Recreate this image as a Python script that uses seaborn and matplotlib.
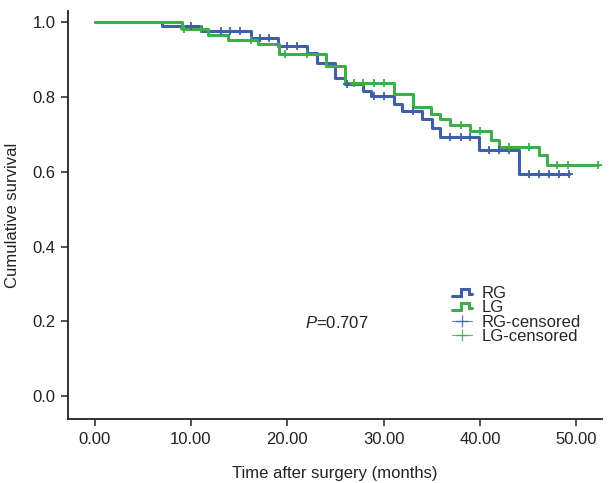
"""Kaplan-Meier style survival curves, RG vs LG."""
import numpy as np
import pandas as pd
import matplotlib
matplotlib.use("Agg")
import matplotlib.pyplot as plt
from matplotlib.legend_handler import HandlerBase
from matplotlib.lines import Line2D
import seaborn as sns

# step curves: time of each drop (months) and survival after it
rg_time = [0, 7.0, 11.0, 16.2, 19.0, 22.1, 23.1, 25.0, 26.0, 27.9, 28.7, 31.1,
           31.9, 34.0, 35.0, 35.9, 39.9, 44.0, 49.2]
rg_surv = [1.0, 0.990, 0.976, 0.958, 0.937, 0.919, 0.892, 0.851, 0.836, 0.816,
           0.802, 0.781, 0.763, 0.740, 0.718, 0.693, 0.658, 0.594, 0.594]
rg_censor = [10.0, 13.1, 14.1, 15.1, 17.2, 18.1, 20.0, 21.0, 26.2, 29.0, 30.0,
             33.0, 36.9, 38.0, 39.0, 40.9, 42.0, 43.0, 45.1, 46.1, 47.2, 48.2, 49.2]

lg_time = [0, 9.1, 11.8, 13.9, 17.0, 19.1, 24.0, 26.0, 31.1, 33.0, 34.9, 35.9,
           36.9, 39.0, 41.1, 42.0, 46.1, 47.0, 52.2]
lg_surv = [1.0, 0.981, 0.967, 0.954, 0.943, 0.914, 0.883, 0.838, 0.809, 0.774,
           0.756, 0.740, 0.725, 0.709, 0.686, 0.667, 0.644, 0.618, 0.618]
lg_censor = [9.3, 11.0, 16.2, 19.8, 22.1, 26.9, 27.9, 29.0, 30.0, 38.0, 40.0,
             43.0, 45.1, 48.0, 49.1, 52.2]

x_ticks = [0, 10, 20, 30, 40, 50]
y_ticks = [0.0, 0.2, 0.4, 0.6, 0.8, 1.0]

BLUE = "#3f5fab"
GREEN = "#3fae4a"
TEXT = "#222222"


def censor_points(times, surv, censor):
    # survival level at each censoring time
    idx = np.searchsorted(times, censor, side="right") - 1
    return pd.DataFrame({"time": censor, "surv": np.asarray(surv)[idx]})


class StepHandler(HandlerBase):
    """Draws a small step shape as the legend icon."""

    def create_artists(self, legend, orig_handle, xdescent, ydescent,
                       width, height, fontsize, trans):
        w, h = width, height
        xs = np.array([0, 0.45, 0.45, 0.85, 0.85, 1.0]) * w - xdescent
        ys = np.array([0.2, 0.2, 0.8, 0.8, 0.35, 0.35]) * h - ydescent
        line = Line2D(xs, ys, color=orig_handle.get_color(), lw=2.2,
                      solid_joinstyle="miter")
        line.set_transform(trans)
        return [line]


sns.set_style("ticks")
plt.rcParams["font.family"] = ["Liberation Sans", "DejaVu Sans"]
plt.rcParams["mathtext.fontset"] = "custom"
plt.rcParams["mathtext.it"] = "Liberation Sans:italic"
plt.rcParams["mathtext.rm"] = "Liberation Sans"

fig = plt.figure(figsize=(6.10, 4.83), dpi=100)
ax = fig.add_axes([0.1115, 0.132, 0.876, 0.845])

rg = pd.DataFrame({"time": rg_time, "surv": rg_surv})
lg = pd.DataFrame({"time": lg_time, "surv": lg_surv})

sns.lineplot(data=rg, x="time", y="surv", ax=ax, color=BLUE, lw=2.2,
             drawstyle="steps-post", sort=False, estimator=None)
sns.lineplot(data=lg, x="time", y="surv", ax=ax, color=GREEN, lw=2.2,
             drawstyle="steps-post", sort=False, estimator=None)

rg_c = censor_points(rg_time, rg_surv, rg_censor)
lg_c = censor_points(lg_time, lg_surv, lg_censor)
sns.scatterplot(data=rg_c, x="time", y="surv", ax=ax, marker="+", s=40,
                color=BLUE, linewidth=1.3, zorder=3)
sns.scatterplot(data=lg_c, x="time", y="surv", ax=ax, marker="+", s=40,
                color=GREEN, linewidth=1.3, zorder=3)

ax.set_xlim(-2.75, 52.7)
ax.set_ylim(-0.062, 1.03)
ax.set_xticks(x_ticks)
ax.set_xticklabels([f"{v:.2f}" for v in x_ticks])
ax.set_yticks(y_ticks)
ax.set_yticklabels([f"{v:.1f}" for v in y_ticks])
ax.tick_params(axis="both", labelsize=12, length=5, width=1.1, color=TEXT,
               labelcolor=TEXT, pad=4)
for side in ("top", "right"):
    ax.spines[side].set_visible(False)
for side in ("left", "bottom"):
    ax.spines[side].set_linewidth(1.3)
    ax.spines[side].set_color(TEXT)

ax.set_xlabel("Time after surgery (months)", fontsize=12, labelpad=14,
              color=TEXT)
ax.set_ylabel("Cumulative survival", fontsize=12, labelpad=9, color=TEXT)

ax.text(0.443, 0.235, r"$P$=0.707", transform=ax.transAxes, fontsize=12,
        color=TEXT, va="center")

handles = [
    Line2D([], [], color=BLUE),
    Line2D([], [], color=GREEN),
    Line2D([], [], color=BLUE, marker="+", ls="-", lw=0.8, markersize=8,
           mew=1.0, alpha=0.8),
    Line2D([], [], color=GREEN, marker="+", ls="-", lw=0.8, markersize=8,
           mew=1.0, alpha=0.8),
]
labels = ["RG", "LG", "RG-censored", "LG-censored"]
ax.legend(handles, labels, loc="upper left",
          bbox_to_anchor=(444 / 610, 1 - 278 / 483),
          bbox_transform=fig.transFigure, frameon=False, fontsize=12,
          labelspacing=-0.05, handlelength=1.2, handletextpad=0.55,
          borderpad=0,
          handler_map={handles[0]: StepHandler(), handles[1]: StepHandler()})

fig.savefig("out.png", dpi=100)
